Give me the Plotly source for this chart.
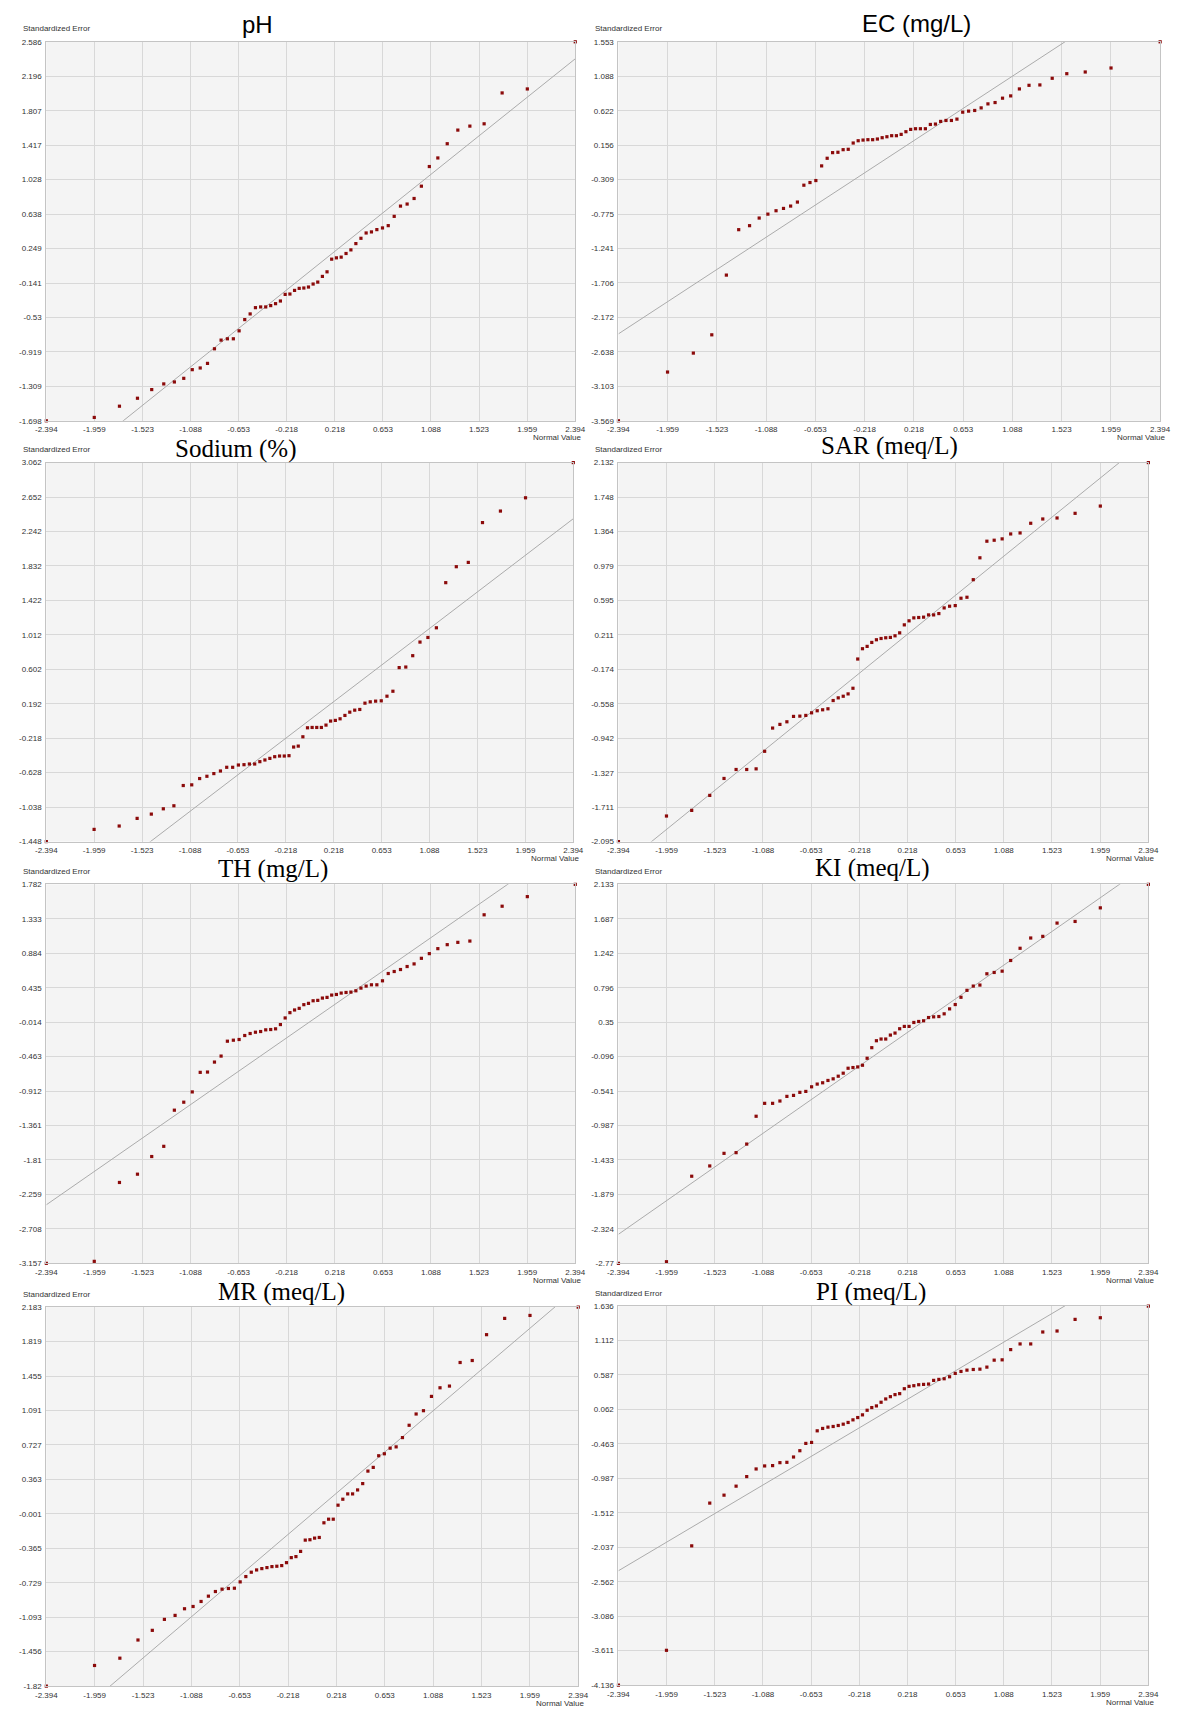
import plotly.graph_objects as go

W, H = 1178, 1712

# Normal quantiles (x positions of the 60 points, same for all panels)
normal_values = [
    -2.394, -1.960, -1.732, -1.569, -1.440, -1.331, -1.235, -1.150, -1.073, -1.001,
    -0.935, -0.872, -0.812, -0.755, -0.701, -0.649, -0.598, -0.549, -0.501, -0.454,
    -0.408, -0.363, -0.319, -0.275, -0.232, -0.189, -0.147, -0.105, -0.063, -0.021,
    0.021, 0.063, 0.105, 0.147, 0.189, 0.232, 0.275, 0.319, 0.363, 0.408,
    0.454, 0.501, 0.549, 0.598, 0.649, 0.701, 0.755, 0.812, 0.872, 0.935,
    1.001, 1.073, 1.150, 1.235, 1.331, 1.440, 1.569, 1.732, 1.960, 2.394,
]

x_tick_labels = ["-2.394", "-1.959", "-1.523", "-1.088", "-0.653", "-0.218",
                 "0.218", "0.653", "1.088", "1.523", "1.959", "2.394"]

# Standardized errors (sorted) per parameter
ph_values = [
    -1.698, -1.660, -1.533, -1.443, -1.345, -1.281, -1.259, -1.218, -1.120, -1.101,
    -1.049, -0.884, -0.786, -0.771, -0.771, -0.681, -0.554, -0.490, -0.419, -0.411,
    -0.411, -0.396, -0.374, -0.344, -0.269, -0.265, -0.224, -0.201, -0.197, -0.186,
    -0.152, -0.130, -0.066, -0.014, 0.129, 0.144, 0.152, 0.193, 0.234, 0.305,
    0.365, 0.425, 0.437, 0.463, 0.482, 0.508, 0.613, 0.729, 0.752, 0.815,
    0.954, 1.176, 1.273, 1.434, 1.588, 1.633, 1.659, 2.008, 2.053, 2.586,
]
ec_values = [
    -3.569, -2.910, -2.654, -2.407, -1.600, -0.986, -0.932, -0.829, -0.776, -0.730,
    -0.699, -0.667, -0.613, -0.385, -0.349, -0.322, -0.124, -0.021, 0.055, 0.060,
    0.095, 0.100, 0.185, 0.216, 0.225, 0.230, 0.230, 0.239, 0.257, 0.270,
    0.284, 0.284, 0.302, 0.338, 0.369, 0.378, 0.378, 0.378, 0.436, 0.441,
    0.477, 0.490, 0.490, 0.508, 0.602, 0.616, 0.625, 0.660, 0.714, 0.732,
    0.791, 0.822, 0.916, 0.965, 0.970, 1.060, 1.122, 1.145, 1.199, 1.553,
]
sodium_values = [
    -1.448, -1.303, -1.263, -1.172, -1.121, -1.058, -1.022, -0.781, -0.773, -0.698,
    -0.671, -0.639, -0.608, -0.564, -0.564, -0.537, -0.533, -0.525, -0.525, -0.497,
    -0.477, -0.458, -0.438, -0.430, -0.430, -0.426, -0.323, -0.312, -0.201, -0.094,
    -0.090, -0.090, -0.090, -0.062, -0.014, -0.006, 0.013, 0.053, 0.092, 0.116,
    0.124, 0.199, 0.215, 0.223, 0.227, 0.282, 0.341, 0.622, 0.629, 0.764,
    0.926, 0.981, 1.096, 1.633, 1.823, 1.874, 2.348, 2.485, 2.643, 3.062,
]
sar_values = [
    -2.095, -1.810, -1.747, -1.580, -1.391, -1.291, -1.291, -1.284, -1.088, -0.829,
    -0.788, -0.759, -0.699, -0.696, -0.688, -0.659, -0.636, -0.625, -0.614, -0.522,
    -0.492, -0.474, -0.448, -0.385, -0.059, 0.056, 0.082, 0.126, 0.156, 0.170,
    0.178, 0.182, 0.200, 0.233, 0.322, 0.367, 0.400, 0.404, 0.408, 0.433,
    0.433, 0.448, 0.511, 0.530, 0.537, 0.619, 0.630, 0.826, 1.070, 1.255,
    1.266, 1.281, 1.336, 1.347, 1.455, 1.503, 1.514, 1.566, 1.647, 2.132,
]
th_values = [
    -3.157, -3.131, -2.103, -1.995, -1.765, -1.632, -1.161, -1.057, -0.923, -0.668,
    -0.664, -0.534, -0.456, -0.262, -0.249, -0.240, -0.188, -0.162, -0.145, -0.136,
    -0.114, -0.110, -0.101, -0.045, 0.041, 0.110, 0.145, 0.166, 0.214, 0.231,
    0.265, 0.270, 0.300, 0.309, 0.339, 0.347, 0.365, 0.373, 0.378, 0.395,
    0.430, 0.456, 0.473, 0.473, 0.525, 0.620, 0.646, 0.672, 0.711, 0.745,
    0.818, 0.879, 0.944, 0.996, 1.026, 1.043, 1.385, 1.497, 1.622, 1.782,
]
ki_values = [
    -2.770, -2.749, -1.643, -1.510, -1.347, -1.338, -1.227, -0.867, -0.700, -0.700,
    -0.670, -0.610, -0.597, -0.558, -0.546, -0.486, -0.451, -0.434, -0.404, -0.383,
    -0.349, -0.310, -0.246, -0.237, -0.229, -0.207, -0.117, 0.020, 0.110, 0.132,
    0.132, 0.183, 0.209, 0.265, 0.295, 0.295, 0.346, 0.359, 0.368, 0.410,
    0.419, 0.423, 0.458, 0.522, 0.578, 0.672, 0.762, 0.817, 0.830, 0.976,
    0.993, 1.010, 1.148, 1.306, 1.439, 1.460, 1.632, 1.653, 1.829, 2.133,
]
mr_values = [
    -1.820, -1.602, -1.525, -1.333, -1.231, -1.115, -1.073, -1.003, -0.979, -0.926,
    -0.870, -0.821, -0.796, -0.789, -0.786, -0.719, -0.663, -0.617, -0.593, -0.579,
    -0.568, -0.558, -0.554, -0.547, -0.516, -0.463, -0.452, -0.397, -0.278, -0.274,
    -0.257, -0.250, -0.095, -0.057, -0.057, 0.091, 0.154, 0.210, 0.210, 0.252,
    0.319, 0.451, 0.490, 0.613, 0.634, 0.693, 0.707, 0.805, 0.935, 1.054,
    1.089, 1.240, 1.331, 1.349, 1.598, 1.619, 1.892, 2.064, 2.095, 2.183,
]
pi_values = [
    -4.136, -3.606, -2.015, -1.364, -1.243, -1.106, -0.960, -0.844, -0.798, -0.793,
    -0.748, -0.743, -0.662, -0.566, -0.455, -0.440, -0.263, -0.227, -0.207, -0.197,
    -0.182, -0.162, -0.136, -0.096, -0.061, -0.020, 0.050, 0.091, 0.116, 0.172,
    0.222, 0.257, 0.288, 0.303, 0.378, 0.414, 0.424, 0.439, 0.444, 0.449,
    0.505, 0.520, 0.530, 0.560, 0.611, 0.641, 0.661, 0.671, 0.676, 0.707,
    0.813, 0.818, 0.974, 1.060, 1.060, 1.242, 1.257, 1.434, 1.459, 1.636,
]

# Y tick labels per panel
ph_ticks = ["2.586", "2.196", "1.807", "1.417", "1.028", "0.638", "0.249", "-0.141", "-0.53", "-0.919", "-1.309", "-1.698"]
ec_ticks = ["1.553", "1.088", "0.622", "0.156", "-0.309", "-0.775", "-1.241", "-1.706", "-2.172", "-2.638", "-3.103", "-3.569"]
sodium_ticks = ["3.062", "2.652", "2.242", "1.832", "1.422", "1.012", "0.602", "0.192", "-0.218", "-0.628", "-1.038", "-1.448"]
sar_ticks = ["2.132", "1.748", "1.364", "0.979", "0.595", "0.211", "-0.174", "-0.558", "-0.942", "-1.327", "-1.711", "-2.095"]
th_ticks = ["1.782", "1.333", "0.884", "0.435", "-0.014", "-0.463", "-0.912", "-1.361", "-1.81", "-2.259", "-2.708", "-3.157"]
ki_ticks = ["2.133", "1.687", "1.242", "0.796", "0.35", "-0.096", "-0.541", "-0.987", "-1.433", "-1.879", "-2.324", "-2.77"]
mr_ticks = ["2.183", "1.819", "1.455", "1.091", "0.727", "0.363", "-0.001", "-0.365", "-0.729", "-1.093", "-1.456", "-1.82"]
pi_ticks = ["1.636", "1.112", "0.587", "0.062", "-0.463", "-0.987", "-1.512", "-2.037", "-2.562", "-3.086", "-3.611", "-4.136"]

titles = ["pH", "EC (mg/L)", "Sodium (%)", "SAR (meq/L)", "TH (mg/L)", "KI (meq/L)", "MR (meq/L)", "PI (meq/L)"]
series = [ph_values, ec_values, sodium_values, sar_values, th_values, ki_values, mr_values, pi_values]
yticks = [ph_ticks, ec_ticks, sodium_ticks, sar_ticks, th_ticks, ki_ticks, mr_ticks, pi_ticks]

# layout (pixel boxes: left, right, top, bottom)
boxes = [
    (36, 575, 38, 419), (619, 1171, 38, 419),
    (36, 573, 461, 842), (619, 1159, 461, 842),
    (36, 575, 885, 1266), (619, 1159, 885, 1266),
    (36, 578, 1310, 1691), (619, 1159, 1309, 1690),
]
title_pos = [(251, 21), (923, 20), (229, 447), (895, 444), (267, 870), (878, 869), (276, 1295), (876, 1295)]
title_fonts = ["Liberation Sans", "Liberation Sans"] + ["Liberation Serif"] * 6
title_sizes = [24, 24, 25, 25, 25, 25, 25, 25]

fig = go.Figure()
annotations = []
tick_font = dict(family="Liberation Sans, Arial, sans-serif", size=8, color="#333333")
x_tickvals = [float(t) for t in x_tick_labels]
x_lo, x_hi = x_tickvals[0], x_tickvals[-1]

for i, (vals, yt, box) in enumerate(zip(series, yticks, boxes)):
    n = i + 1
    xa = "x" if n == 1 else f"x{n}"
    ya = "y" if n == 1 else f"y{n}"
    l, r, t, b = box
    yvals = [float(v) for v in yt]
    y_lo, y_hi = yvals[-1], yvals[0]

    # reference line y = x
    fig.add_trace(go.Scatter(
        x=[x_lo, x_hi], y=[x_lo, x_hi], mode="lines",
        line=dict(color="#ABABAB", width=1), xaxis=xa, yaxis=ya,
        showlegend=False, hoverinfo="skip"))
    # points
    fig.add_trace(go.Scatter(
        x=normal_values, y=vals, mode="markers",
        marker=dict(color="#8B0A0A", size=3.2, symbol="square"),
        xaxis=xa, yaxis=ya, showlegend=False, cliponaxis=False))

    axis_common = dict(showgrid=True, gridcolor="#D8D8D8", gridwidth=1,
                       zeroline=False, showline=True, linecolor="#C4C4C4",
                       linewidth=1, mirror=True, ticks="", tickfont=tick_font)
    fig.layout[("xaxis" if n == 1 else f"xaxis{n}")] = dict(
        domain=[l / W, r / W], range=[x_lo, x_hi], anchor=ya,
        tickmode="array", tickvals=x_tickvals, ticktext=x_tick_labels,
        ticklabelstandoff=1, **axis_common)
    fig.layout[("yaxis" if n == 1 else f"yaxis{n}")] = dict(
        domain=[1 - b / H, 1 - t / H], range=[y_lo, y_hi], anchor=xa,
        tickmode="array", tickvals=yvals, ticktext=yt,
        ticklabelstandoff=2, **axis_common)

    annotations.append(dict(
        text="Standardized Error", x=(l - 26) / W, y=1 - (t - 13) / H,
        xref="paper", yref="paper", xanchor="left", yanchor="middle",
        showarrow=False, font=dict(family="Liberation Sans, Arial, sans-serif", size=8, color="#333333")))
    annotations.append(dict(
        text="Normal Value", x=min(r + 8, W) / W, y=1 - (b + 17) / H,
        xref="paper", yref="paper", xanchor="right", yanchor="middle",
        showarrow=False, font=dict(family="Liberation Sans, Arial, sans-serif", size=8, color="#333333")))
    tx, ty = title_pos[i]
    annotations.append(dict(
        text=titles[i], x=tx / W, y=1 - ty / H, xref="paper", yref="paper",
        xanchor="center", yanchor="middle", showarrow=False,
        font=dict(family=title_fonts[i], size=title_sizes[i], color="#000000")))

fig.update_layout(
    width=W, height=H, margin=dict(l=0, r=0, t=0, b=0),
    paper_bgcolor="#FFFFFF", plot_bgcolor="#F4F4F4",
    annotations=annotations, showlegend=False,
)

fig.write_html("out.html", config={"displayModeBar": False},
               post_script="document.body.style.margin='0';document.body.style.overflow='hidden';")
